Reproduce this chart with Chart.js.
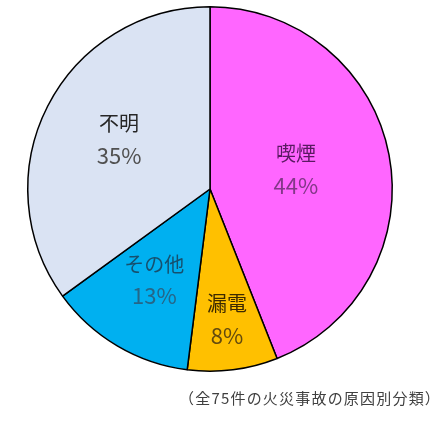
<!DOCTYPE html>
<html><head><meta charset="utf-8">
<script src="https://cdn.jsdelivr.net/npm/chart.js@4/dist/chart.umd.min.js"></script>
<style>
html,body{margin:0;padding:0;background:#fff;}
#wrap{position:relative;width:441px;height:425px;}
#note{position:absolute;left:179px;top:387px;font-family:"Noto Sans CJK JP";font-size:15px;letter-spacing:1.2px;color:#404040;white-space:nowrap;}
</style></head>
<body>
<div id="wrap"><canvas id="c" width="441" height="425"></canvas>
<div id="note">（全75件の火災事故の原因別分類）</div></div>
<script>
const categories = ["喫煙", "漏電", "その他", "不明"];
const percents = [44, 8, 13, 35];
const percentLabels = ["44%", "8%", "13%", "35%"];

const sliceColors = ["#FF66FF", "#FFC000", "#00B0F0", "#DAE3F3"];
const nameColors = ["#5A1A62", "#3D2A00", "#16506E", "#262626"];
const pctColors = ["#823888", "#634A0E", "#256688", "#505050"];
const labelRadius = [0.48, 0.74, 0.60, 0.56];

const labelPlugin = {
  id: 'sliceLabels',
  afterDatasetsDraw(chart) {
    const ctx = chart.ctx;
    const meta = chart.getDatasetMeta(0);
    meta.data.forEach((arc, i) => {
      const p = arc.getProps(['x','y','startAngle','endAngle','outerRadius'], true);
      const mid = (p.startAngle + p.endAngle) / 2;
      const r = p.outerRadius * labelRadius[i];
      const cx = p.x + Math.cos(mid) * r;
      const cy = p.y + Math.sin(mid) * r - 3;
      ctx.save();
      ctx.textAlign = 'center';
      ctx.textBaseline = 'middle';
      ctx.font = '20px "Noto Sans CJK JP"';
      ctx.fillStyle = nameColors[i];
      ctx.fillText(categories[i], cx, cy - 16);
      ctx.font = '22px "Noto Sans CJK JP"';
      ctx.fillStyle = pctColors[i];
      ctx.fillText(percentLabels[i], cx, cy + 16);
      ctx.restore();
    });
  }
};

new Chart(document.getElementById('c'), {
  type: 'pie',
  data: {
    labels: categories,
    datasets: [{
      data: percents,
      backgroundColor: sliceColors,
      borderColor: '#000000',
      borderWidth: 1.5
    }]
  },
  options: {
    responsive: false,
    animation: false,
    layout: { padding: { left: 27, right: 48, top: 6, bottom: 53 } },
    plugins: { legend: { display: false }, tooltip: { enabled: false } }
  },
  plugins: [labelPlugin]
});
</script>
</body></html>
